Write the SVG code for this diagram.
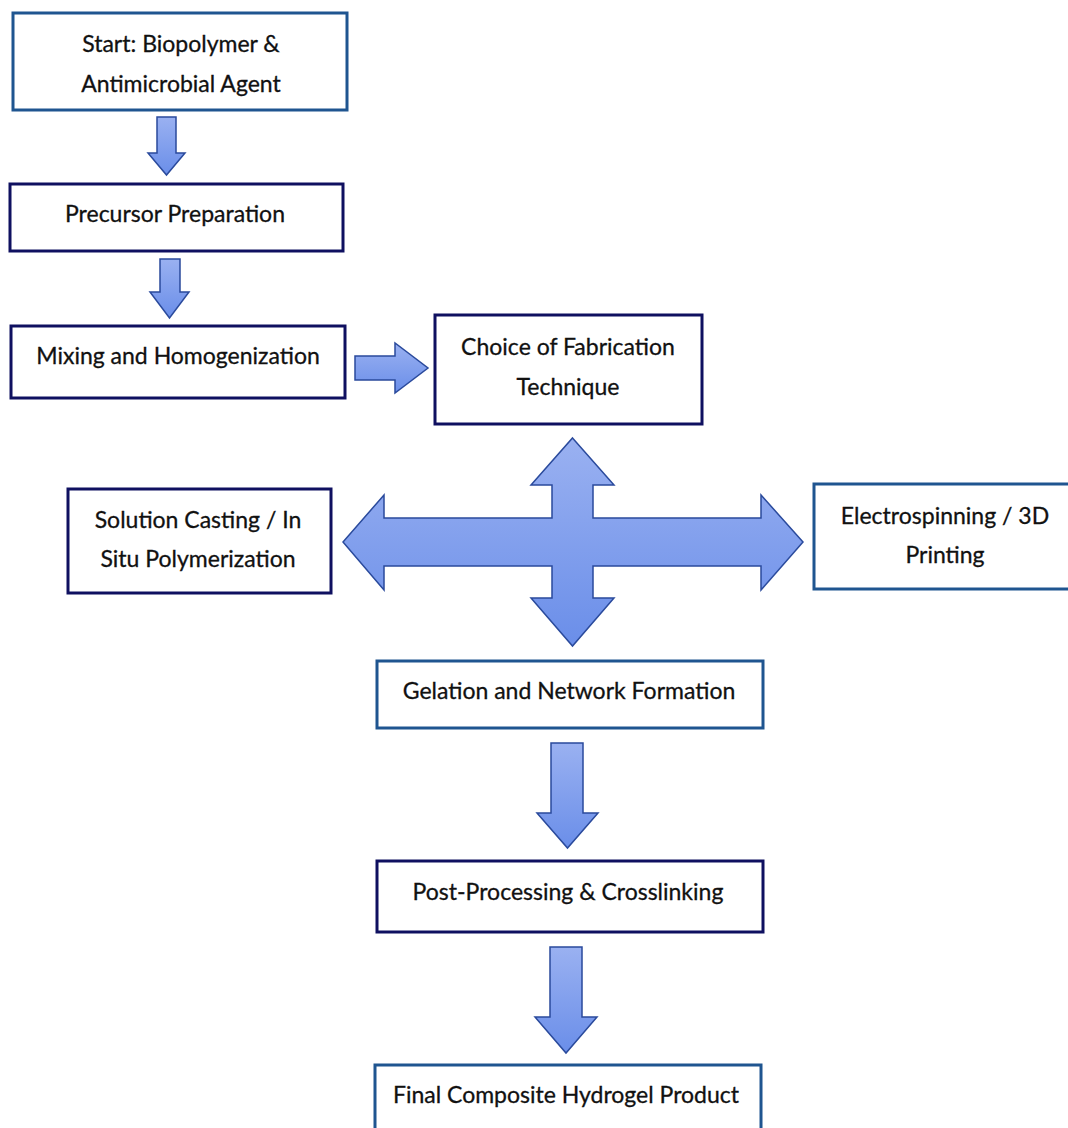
<svg xmlns="http://www.w3.org/2000/svg" width="1068" height="1128" viewBox="0 0 1068 1128">
<defs>
<linearGradient id="gv" x1="0" y1="0" x2="0" y2="1">
<stop offset="0" stop-color="#9ab1f1"/>
<stop offset="1" stop-color="#6a8ee9"/>
</linearGradient>
<style>
.bm{fill:#fff;stroke:#1f5590;stroke-width:3}
.bn{fill:#fff;stroke:#0f1060;stroke-width:3}
.t{font-family:Lato,"Open Sans","Liberation Sans",sans-serif;font-size:23px;fill:#111;stroke:#111;stroke-width:0.3;text-anchor:middle}
.ar{fill:url(#gv);stroke:#2a4a9c;stroke-width:1.5;stroke-linejoin:miter}
</style>
</defs>
<rect width="1068" height="1128" fill="#fff"/>
<g id="connectors">
<path class="ar" d="M157,117 H176 V153 H185 L166.5,175 L148,153 H157 Z"/>
<path class="ar" d="M160,259 H180 V292 H189 L169.5,318 L150,292 H160 Z"/>
<path class="ar" d="M355,356 H395 V343 L428,368 L395,393 V380 H355 Z"/>
<path class="ar" d="M572.5,438 L614,485 H593 V518 H761 V495 L803,542 L761,590 V566 H593 V598 H614 L572.5,646 L531,598 H552 V566 H384 V590 L343,542 L384,495 V518 H552 V485 H531 Z"/>
<path class="ar" d="M551,743 H583 V813 H598 L567.5,848 L537,813 H551 Z"/>
<path class="ar" d="M550,947 H582 V1017 H597 L566,1053 L535,1017 H550 Z"/>
</g>
<g id="n1"><rect class="bm" x="13" y="13" width="334" height="97"/><text class="t" x="181" y="52">Start: Biopolymer &amp;</text><text class="t" x="181" y="92">Antimicrobial Agent</text></g>
<g id="n2"><rect class="bn" x="10" y="184" width="333" height="67"/><text class="t" x="175" y="222">Precursor Preparation</text></g>
<g id="n3"><rect class="bn" x="11" y="326" width="334" height="72"/><text class="t" x="178" y="364">Mixing and Homogenization</text></g>
<g id="n4"><rect class="bn" x="435" y="315" width="267" height="109"/><text class="t" x="568" y="355">Choice of Fabrication</text><text class="t" x="568" y="395">Technique</text></g>
<g id="n5"><rect class="bn" x="68" y="489" width="263" height="104"/><text class="t" x="198" y="528">Solution Casting / In</text><text class="t" x="198" y="567">Situ Polymerization</text></g>
<g id="n6"><rect class="bm" x="814" y="484" width="260" height="105"/><text class="t" x="945" y="524">Electrospinning / 3D</text><text class="t" x="945" y="563">Printing</text></g>
<g id="n7"><rect class="bm" x="377" y="661" width="386" height="67"/><text class="t" x="569" y="699">Gelation and Network Formation</text></g>
<g id="n8"><rect class="bn" x="377" y="861" width="386" height="71"/><text class="t" x="568" y="900">Post-Processing &amp; Crosslinking</text></g>
<g id="n9"><rect class="bm" x="375" y="1065" width="386" height="70"/><text class="t" x="566" y="1103">Final Composite Hydrogel Product</text></g>
</svg>
